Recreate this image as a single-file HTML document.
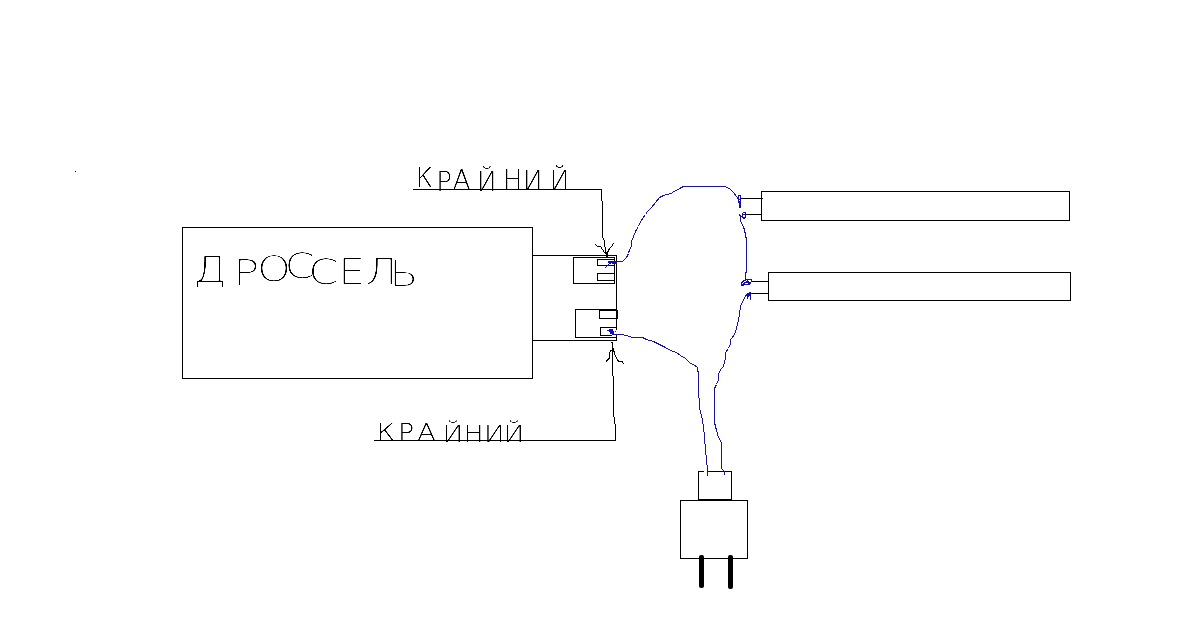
<!DOCTYPE html>
<html lang="ru">
<head>
<meta charset="utf-8">
<title>Дроссель — схема подключения</title>
<style>
  html, body { margin: 0; padding: 0; background: #ffffff; }
  body { width: 1200px; height: 643px; overflow: hidden; }
  svg { display: block; }
  .k { fill: none; stroke: #000000; stroke-width: 1; shape-rendering: crispEdges; }
  .h { fill: none; stroke: #000000; stroke-width: 1; shape-rendering: crispEdges; }
  .b { fill: none; stroke: #18149a; stroke-width: 1; shape-rendering: crispEdges; }
  .bp { fill: #14109c; stroke: none; shape-rendering: crispEdges; }
  .bq { fill: #0c0cc8; stroke: none; shape-rendering: crispEdges; }
  text { font-family: "DejaVu Sans Light", "DejaVu Sans", "Liberation Sans", sans-serif; font-weight: 200; fill: #000000; filter: url(#ink); }
</style>
</head>
<body>
<svg width="1200" height="643" viewBox="0 0 1200 643">
  <defs>
    <filter id="ink" x="-5%" y="-20%" width="110%" height="140%" color-interpolation-filters="sRGB">
      <feColorMatrix type="matrix" values="0 0 0 0 0  0 0 0 0 0  0 0 0 0 0  -1 0 0 1 0"/>
      <feComponentTransfer>
        <feFuncA type="linear" slope="2" intercept="-0.25"/>
      </feComponentTransfer>
    </filter>
  </defs>
  <rect x="0" y="0" width="1200" height="643" fill="#ffffff"/>

  <rect x="75" y="171" width="1" height="1" fill="#000" shape-rendering="crispEdges"/>

  <!-- ballast body -->
  <rect class="k" x="182.5" y="227.5" width="350" height="151"/>
  <text id="t-drossel" stroke="#ffffff" stroke-width="0.5" font-size="36.0" transform="scale(1.2,1)" x="161.2 194.3 214.2 237.1 256.9 281.6 304.4 324.2" y="282.4 285.0 281.5 278.5 284.5 284.0 284.5 286.0">ДРОССЕЛЬ</text>

  <!-- terminal housing -->
  <path class="k" d="M532.5 255.5H616.5V330M616.5 335V340.5M532.5 340.5H617"/>
  <rect class="k" x="573.5" y="257.5" width="41" height="26"/>
  <rect class="k" x="597.5" y="259.5" width="17" height="6"/>
  <rect class="k" x="597.5" y="273.5" width="17" height="7"/>
  <path class="k" d="M616.5 309.5H575.5V337.5H616.5"/>
  <path class="k" d="M616 310.5H599.5V318.5H616M617.500 310V319"/>
  <path class="k" d="M616 327.5H600.5V335.5H612"/>

  <!-- top label -->
  <text id="t-top" stroke="#ffffff" stroke-width="0.1" font-size="26.0" transform="scale(1.0,1)" x="415.6 436.3 452.7 476.9 503.0 523.1 549.7" y="186.7 191.0 189.4 191.0 189.4 190.0 190.0">КРАЙНИЙ</text>
  <path class="k" d="M413 189.500H601.5"/>
  <path class="h" d="M601.5 189V201M602.500 201V238M603.500 238V240M604.500 240V247M605.500 247V252M606.500 252V258M607.500 252V258"/>
  <path class="h" d="M595.5 244.5L597.5 246.500H600.5L602.5 249.500L604.5 252.500L606.5 253.500"/>
  <path class="h" d="M613.5 243.500L611.5 246.500L609.5 248.500L608.5 250.500L607.5 252.500"/>

  <!-- bottom label -->
  <text id="t-bot" stroke="#ffffff" stroke-width="0.1" font-size="22.5" transform="scale(1.2,1)" x="314.0 331.7 347.8 369.0 386.2 403.4 419.8" y="440.0 440.0 440.0 442.0 442.0 442.0 442.0">КРАЙНИЙ</text>
  <path class="k" d="M374 440.500H616"/>
  <path class="k" d="M611 342.500H613M612.500 342V376M613.500 348V352M613.500 376V417M614.500 417V424M615.500 424V441"/>
  <path class="h" d="M612.5 350.500H610.500L609.5 353.500V357.500L608.5 359.500L606.5 360.500V362"/>
  <path class="h" d="M613.5 349.500L614.5 353.500L615.5 356.500L617.5 359.500L618.5 361.500H622.500L623.5 364"/>

  <!-- lamps -->
  <rect class="k" x="761.5" y="191.500" width="308" height="29"/>
  <path class="k" d="M741 198.500H763M746 214.500H761"/>
  <rect class="k" x="768.5" y="272.500" width="302" height="28"/>
  <path class="k" d="M752 281.500H768M751 293.500H768"/>

  <!-- plug -->
  <path class="k" d="M704 471.500H698.500V499.500H731.500V471.500H708"/>
  <rect class="k" x="680.5" y="500.500" width="67" height="58"/>
  <rect x="699" y="555" width="5" height="33" rx="2" ry="2" fill="#000"/>
  <rect x="728" y="555" width="5" height="34" rx="2" ry="2" fill="#000"/>

  <!-- wires -->
  <path class="b" d="M616 261.500H622.500L626.5 257.500L628.5 253.500L629.5 249.500L631.5 246.500V241.500L633.5 236.500L635.5 231.500L638.5 226.500L640.5 221.500L645.5 214.500L647.5 211.500L651.5 207.500L655.5 202.500L659.5 197.500L663.5 195.500L666.5 194.500L671.5 193.500L673.5 191.500L676.5 190.500L679.5 188.500L683.5 186.500H724.500L729.5 188.500L733.5 192.500L736.5 196.500L738.5 199.500"/>
  <path class="b" d="M740.5 219V221.500L743.5 226.500L745.5 234.500L746.5 240.500V272.500H745.500V279"/>
  <path class="b" d="M746.5 295.500L745.5 296.500L742.5 301.500L740.5 306.500L739.5 313.500L738.5 320.500L736.5 327.500L735.5 332.500L732.5 337.500L730.5 339.500V343.500L728.5 348.500L725.5 352.500V357.500L724.5 362.500L723.5 366.500L720.5 369.500L718.5 374.500V379.500L716.5 384.500L714.5 388.500V422.500L715.5 426.500L716.5 430.500L718.5 437.500L721.5 442.500V468.500L724.5 471.500V475"/>
  <path class="b" d="M612 334.500H620.500L626.5 335.500L632.5 337.500H642.500L646.5 339.500L653.5 341.500L659.5 344.500L665.5 347.500L670.5 350.500L676.5 352.500L680.5 355.500L685.5 358.500L690.5 363.500L693.5 364.500L697.5 367.500L698.5 375.500V387.500L699.5 407.500L701.5 415.500L703.5 426.500L704.5 437.500L705.5 450.500L706.5 459.500L707.5 469.500V476"/>
  <!-- wire ends -->
  <path class="bp" d="M738 195h3v1h-3zM738 196h1v1h-1zM740 196h1v1h-1zM738 197h1v1h-1zM740 197h1v1h-1zM738 198h1v1h-1zM740 198h1v1h-1zM738 199h3v1h-3zM738 200h1v1h-1zM740 200h1v1h-1zM738 201h3v1h-3zM738 202h3v1h-3zM739 203h2v1h-2zM739 204h2v1h-2zM739 205h2v1h-2zM739 206h2v1h-2zM739 207h2v1h-2z"/>
  <path class="bp" d="M743 212h3v1h-3zM742 213h1v1h-1zM745 213h1v1h-1zM739 214h1v1h-1zM742 214h4v1h-4zM739 215h2v1h-2zM742 215h1v1h-1zM745 215h1v1h-1zM740 216h3v1h-3zM745 216h1v1h-1zM740 217h1v1h-1zM742 217h4v1h-4zM740 218h1v1h-1zM743 218h2v1h-2zM740 219h1v1h-1z"/>
  <path class="bp" d="M745 279h7v1h-7zM743 280h3v1h-3zM747 280h1v1h-1zM751 280h1v1h-1zM742 281h2v1h-2zM746 281h3v1h-3zM751 281h1v1h-1zM741 282h2v1h-2zM744 282h7v1h-7zM741 283h1v1h-1zM743 283h2v1h-2zM748 283h3v1h-3zM741 284h9v1h-9zM741 285h3v1h-3z"/>
  <path class="bp" d="M749 292h2v1h-2zM747 293h5v1h-5zM746 294h5v1h-5zM745 295h6v1h-6zM745 296h1v1h-1zM747 296h2v1h-2zM750 296h1v1h-1zM747 297h1v1h-1zM750 297h1v1h-1zM747 298h1v1h-1zM750 298h1v1h-1zM750 299h1v1h-1z"/>
  <path class="bq" d="M608 261h9v1h-9zM608 262h9v1h-9zM609 263h2v1h-2zM612 263h5v1h-5zM608 264h1v1h-1zM607 265h1v1h-1zM606 266h1v1h-1zM605 267h1v1h-1z"/>
  <path class="bq" d="M609 329h4v1h-4zM607 330h6v1h-6zM609 331h5v1h-5zM615 331h1v1h-1zM610 332h4v1h-4zM610 333h4v1h-4z"/>
</svg>
</body>
</html>
